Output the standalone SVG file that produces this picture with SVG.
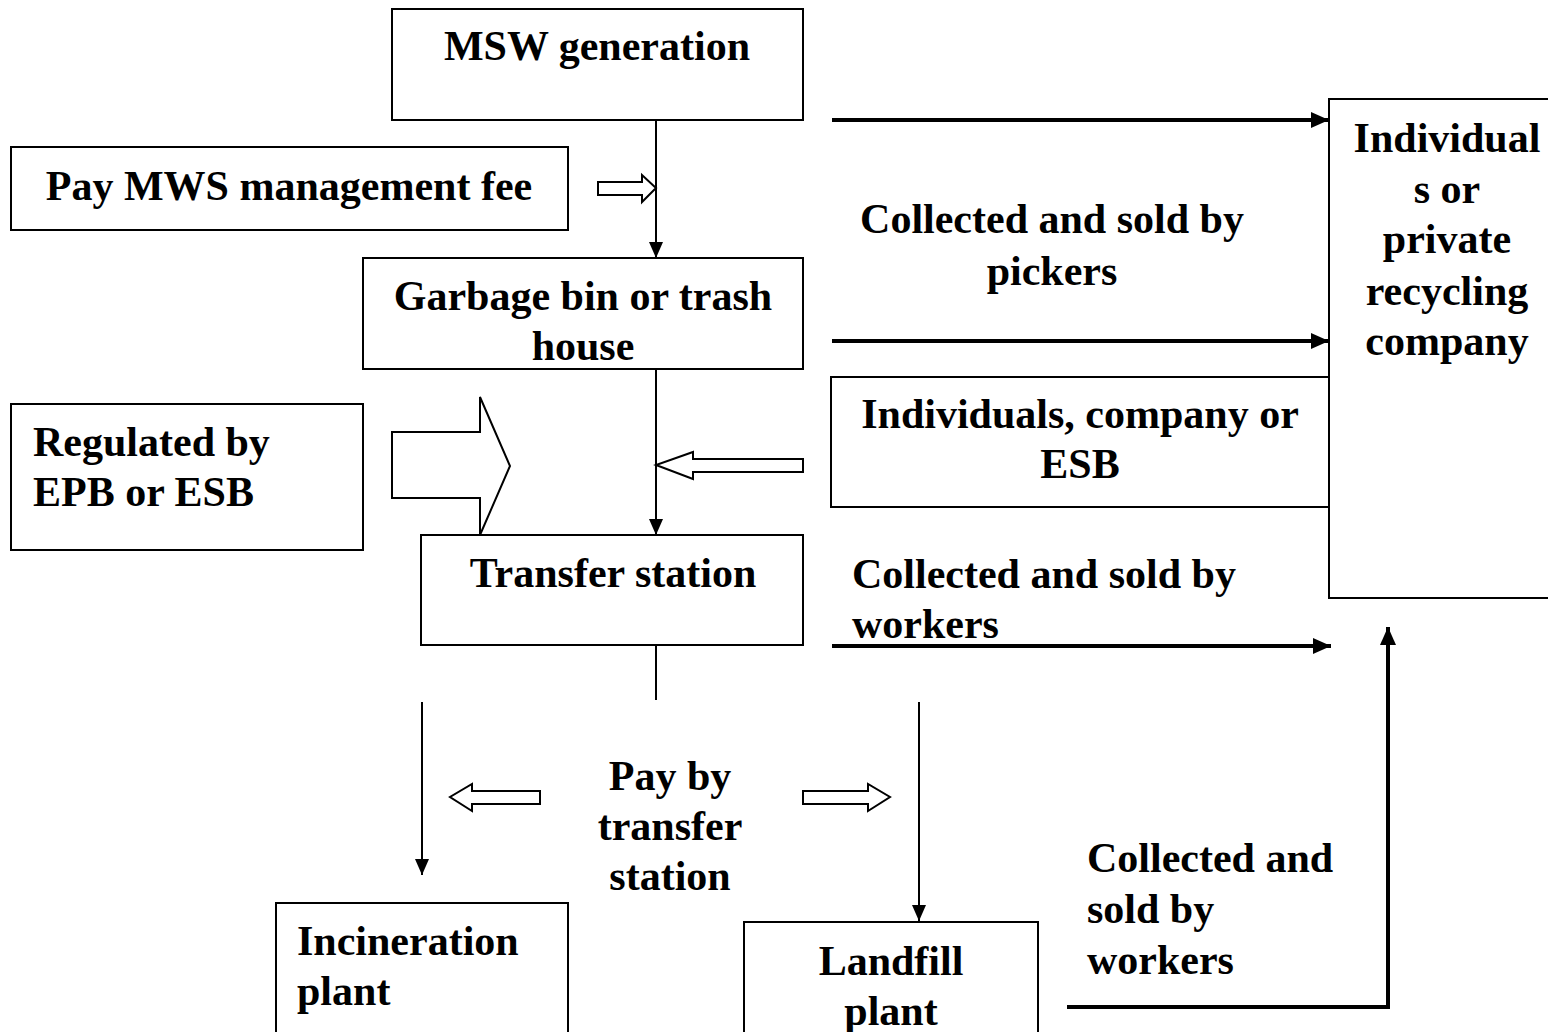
<svg xmlns="http://www.w3.org/2000/svg" width="1548" height="1032" viewBox="0 0 1548 1032">
<style>
.box{fill:#fff;stroke:#000;stroke-width:2}
.t{font-family:"Liberation Serif","Times New Roman",serif;font-weight:bold;font-size:42px;fill:#000}
.c{text-anchor:middle}
.thin{stroke:#000;stroke-width:2;fill:none}
.thick{stroke:#000;stroke-width:4;fill:none}
.hollow{fill:#fff;stroke:#000;stroke-width:2;stroke-linejoin:miter}
</style>
<defs>
<marker id="ah" markerUnits="userSpaceOnUse" markerWidth="16" markerHeight="14" refX="16" refY="7" orient="auto">
<path d="M0,0 L16,7 L0,14 z" fill="#000"/>
</marker>
<marker id="ahk" markerUnits="userSpaceOnUse" markerWidth="18" markerHeight="16" refX="18" refY="8" orient="auto">
<path d="M0,0 L18,8 L0,16 z" fill="#000"/>
</marker>
</defs>
<rect width="1548" height="1032" fill="#fff"/>

<g id="connectors">
<line class="thin" x1="656" y1="120" x2="656" y2="258" marker-end="url(#ah)"/>
<line class="thin" x1="656" y1="369" x2="656" y2="535" marker-end="url(#ah)"/>
<line class="thin" x1="656" y1="645" x2="656" y2="700"/>
<line class="thin" x1="422" y1="702" x2="422" y2="875" marker-end="url(#ah)"/>
<line class="thin" x1="919" y1="702" x2="919" y2="921" marker-end="url(#ah)"/>
<line class="thick" x1="832" y1="120" x2="1329" y2="120" marker-end="url(#ahk)"/>
<line class="thick" x1="832" y1="341" x2="1329" y2="341" marker-end="url(#ahk)"/>
<line class="thick" x1="832" y1="646" x2="1331" y2="646" marker-end="url(#ahk)"/>
<polyline class="thick" points="1067,1007 1388,1007 1388,627" marker-end="url(#ahk)"/>
<polygon class="hollow" points="598,182 642,182 642,175 656,188 642,202 642,195 598,195"/>
<polygon class="hollow" points="803,459 693,459 693,452 656,465 693,479 693,472 803,472"/>
<polygon class="hollow" points="392,432 480,432 480,397 510,466 480,535 480,498 392,498"/>
<polygon class="hollow" points="540,791 472,791 472,784 450,797 472,811 472,804 540,804"/>
<polygon class="hollow" points="803,791 868,791 868,784 890,797 868,811 868,804 803,804"/>
</g>

<g id="msw">
<rect class="box" x="392" y="9" width="411" height="111"/>
<text class="t c" x="597" y="60">MSW generation</text>
</g>
<g id="fee">
<rect class="box" x="11" y="147" width="557" height="83"/>
<text class="t c" x="289" y="200">Pay MWS management fee</text>
</g>
<g id="bin">
<rect class="box" x="363" y="258" width="440" height="111"/>
<text class="t c" x="583" y="310">Garbage bin or trash</text>
<text class="t c" x="583" y="360">house</text>
</g>
<g id="regulated">
<rect class="box" x="11" y="404" width="352" height="146"/>
<text class="t" x="33" y="456">Regulated by</text>
<text class="t" x="33" y="506">EPB or ESB</text>
</g>
<g id="ics">
<rect class="box" x="831" y="377" width="498" height="130"/>
<text class="t c" x="1080" y="428">Individuals, company or</text>
<text class="t c" x="1080" y="478">ESB</text>
</g>
<g id="recycler">
<rect class="box" x="1329" y="99" width="225" height="499"/>
<text class="t c" x="1447" y="152">Individual</text>
<text class="t c" x="1447" y="203">s or</text>
<text class="t c" x="1447" y="253">private</text>
<text class="t c" x="1447" y="305">recycling</text>
<text class="t c" x="1447" y="355">company</text>
</g>
<g id="transfer">
<rect class="box" x="421" y="535" width="382" height="110"/>
<text class="t c" x="613" y="587">Transfer station</text>
</g>
<g id="incineration">
<rect class="box" x="276" y="903" width="292" height="140"/>
<text class="t" x="297" y="955">Incineration</text>
<text class="t" x="297" y="1005">plant</text>
</g>
<g id="landfill">
<rect class="box" x="744" y="922" width="294" height="120"/>
<text class="t c" x="891" y="975">Landfill</text>
<text class="t c" x="891" y="1025">plant</text>
</g>
<g id="labels">
<text class="t c" x="1052" y="233">Collected and sold by</text>
<text class="t c" x="1052" y="285">pickers</text>
<text class="t" x="852" y="588">Collected and sold by</text>
<text class="t" x="852" y="638">workers</text>
<text class="t c" x="670" y="790">Pay by</text>
<text class="t c" x="670" y="840">transfer</text>
<text class="t c" x="670" y="890">station</text>
<text class="t" x="1087" y="872">Collected and</text>
<text class="t" x="1087" y="923">sold by</text>
<text class="t" x="1087" y="974">workers</text>
</g>
</svg>
